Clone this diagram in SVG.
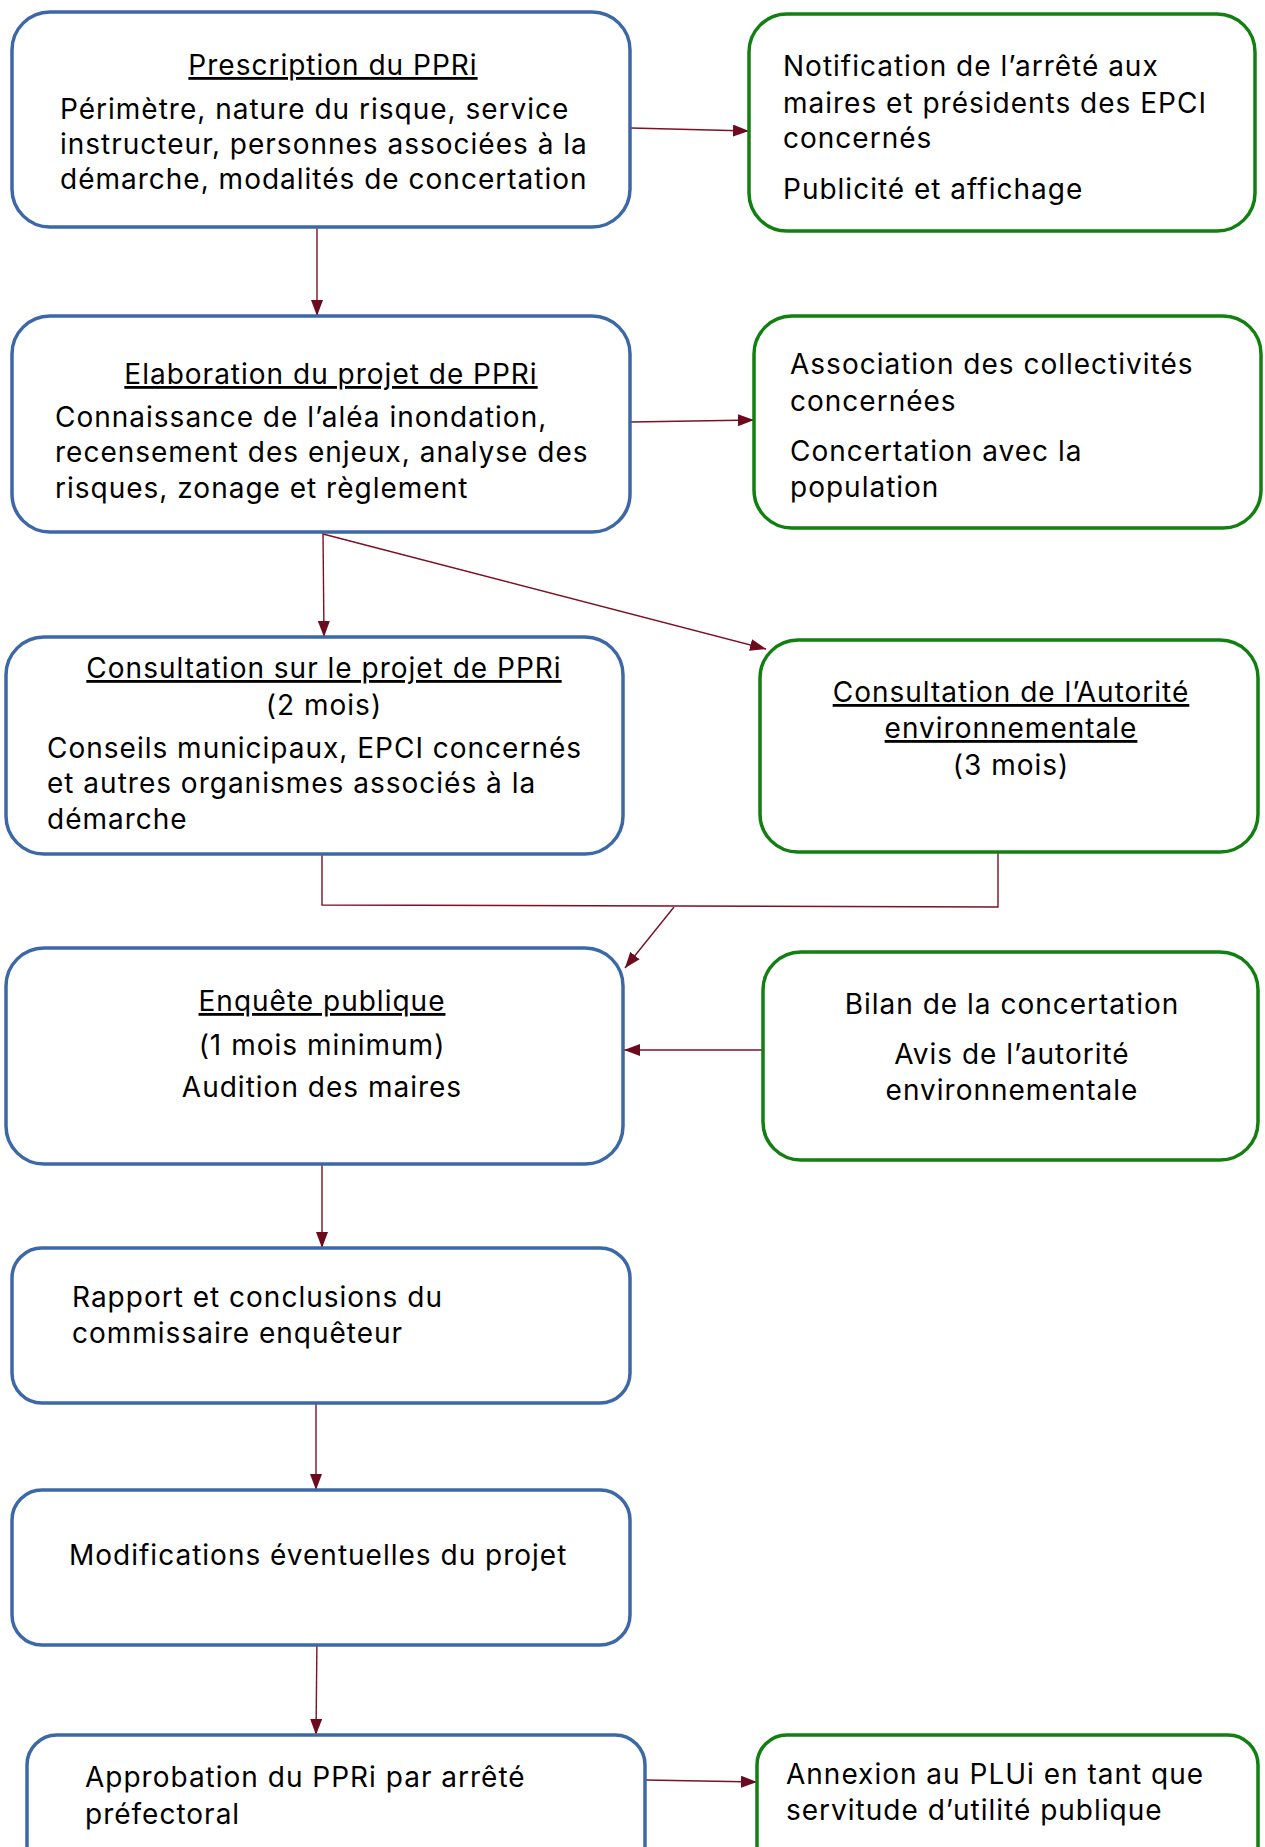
<svg xmlns="http://www.w3.org/2000/svg" width="1265" height="1847" viewBox="0 0 1265 1847">
<style>
.bb{fill:#fff;stroke:#3c68a8;stroke-width:3.5}
.gb{fill:#fff;stroke:#118011;stroke-width:3.5}
text{font-family:Inter,"Open Sans",sans-serif;font-size:28px;letter-spacing:1px;fill:#000}
.c{text-anchor:middle}
.u{text-decoration:underline}
.cn{fill:none;stroke:#7b1026;stroke-width:1.4}
</style>
<defs>
<marker id="ah" markerWidth="16" markerHeight="12" refX="16" refY="6" orient="auto" markerUnits="userSpaceOnUse">
<path d="M0,0 L16,6 L0,12 Z" fill="#6e0a1e"/>
</marker>
</defs>
<rect width="1265" height="1847" fill="#fff"/>
<g id="connectors">
<line class="cn" x1="631" y1="128" x2="749" y2="131" marker-end="url(#ah)"/>
<line class="cn" x1="317" y1="228" x2="317" y2="316" marker-end="url(#ah)"/>
<line class="cn" x1="631" y1="422" x2="754" y2="420" marker-end="url(#ah)"/>
<line class="cn" x1="323" y1="533" x2="324" y2="637" marker-end="url(#ah)"/>
<line class="cn" x1="323" y1="534" x2="766" y2="649" marker-end="url(#ah)"/>
<polyline class="cn" points="322,855 322,905 998,907 998,853"/>
<line class="cn" x1="674" y1="907" x2="625" y2="968" marker-end="url(#ah)"/>
<line class="cn" x1="763" y1="1050" x2="624" y2="1050" marker-end="url(#ah)"/>
<line class="cn" x1="322" y1="1165" x2="322" y2="1248" marker-end="url(#ah)"/>
<line class="cn" x1="316" y1="1404" x2="316" y2="1490" marker-end="url(#ah)"/>
<line class="cn" x1="317" y1="1635" x2="316" y2="1735" marker-end="url(#ah)"/>
<line class="cn" x1="646" y1="1780" x2="757" y2="1782" marker-end="url(#ah)"/>
</g>
<g id="n1">
<rect class="bb" x="12" y="12" width="618" height="215" rx="38"/>
<text class="c u" x="333" y="75">Prescription du PPRi</text>
<text x="60" y="119">Périmètre, nature du risque, service</text>
<text x="60" y="154">instructeur, personnes associées à la</text>
<text x="60" y="189">démarche, modalités de concertation</text>
</g>
<g id="n2">
<rect class="gb" x="749" y="14" width="506" height="217" rx="38"/>
<text x="783" y="76">Notification de l’arrêté aux</text>
<text x="783" y="113">maires et présidents des EPCI</text>
<text x="783" y="148">concernés</text>
<text x="783" y="199">Publicité et affichage</text>
</g>
<g id="n3">
<rect class="bb" x="12" y="316" width="618" height="216" rx="38"/>
<text class="c u" x="331" y="384">Elaboration du projet de PPRi</text>
<text x="55" y="427">Connaissance de l’aléa inondation,</text>
<text x="55" y="462">recensement des enjeux, analyse des</text>
<text x="55" y="498">risques, zonage et règlement</text>
</g>
<g id="n4">
<rect class="gb" x="754" y="316" width="507" height="212" rx="38"/>
<text x="790" y="374">Association des collectivités</text>
<text x="790" y="411">concernées</text>
<text x="790" y="461">Concertation avec la</text>
<text x="790" y="497">population</text>
</g>
<g id="n5">
<rect class="bb" x="6" y="637" width="617" height="217" rx="38"/>
<text class="c u" x="324" y="678">Consultation sur le projet de PPRi</text>
<text class="c" x="324" y="715">(2 mois)</text>
<text x="47" y="758">Conseils municipaux, EPCI concernés</text>
<text x="47" y="793">et autres organismes associés à la</text>
<text x="47" y="829">démarche</text>
</g>
<g id="n6">
<rect class="gb" x="760" y="640" width="498" height="212" rx="38"/>
<text class="c u" x="1011" y="702">Consultation de l’Autorité</text>
<text class="c u" x="1011" y="738">environnementale</text>
<text class="c" x="1011" y="775">(3 mois)</text>
</g>
<g id="n7">
<rect class="bb" x="6" y="948" width="617" height="216" rx="38"/>
<text class="c u" x="322" y="1011">Enquête publique</text>
<text class="c" x="322" y="1055">(1 mois minimum)</text>
<text class="c" x="322" y="1097">Audition des maires</text>
</g>
<g id="n8">
<rect class="gb" x="763" y="952" width="495" height="208" rx="38"/>
<text class="c" x="1012" y="1014">Bilan de la concertation</text>
<text class="c" x="1012" y="1064">Avis de l’autorité</text>
<text class="c" x="1012" y="1100">environnementale</text>
</g>
<g id="n9">
<rect class="bb" x="12" y="1248" width="618" height="155" rx="30"/>
<text x="72" y="1307">Rapport et conclusions du</text>
<text x="72" y="1343">commissaire enquêteur</text>
</g>
<g id="n10">
<rect class="bb" x="12" y="1490" width="618" height="155" rx="30"/>
<text x="69" y="1565">Modifications éventuelles du projet</text>
</g>
<g id="n11">
<rect class="bb" x="27" y="1735" width="618" height="150" rx="30"/>
<text x="85" y="1787">Approbation du PPRi par arrêté</text>
<text x="85" y="1824">préfectoral</text>
</g>
<g id="n12">
<rect class="gb" x="757" y="1735" width="501" height="150" rx="30"/>
<text x="786" y="1784">Annexion au PLUi en tant que</text>
<text x="786" y="1820">servitude d’utilité publique</text>
</g>
</svg>
